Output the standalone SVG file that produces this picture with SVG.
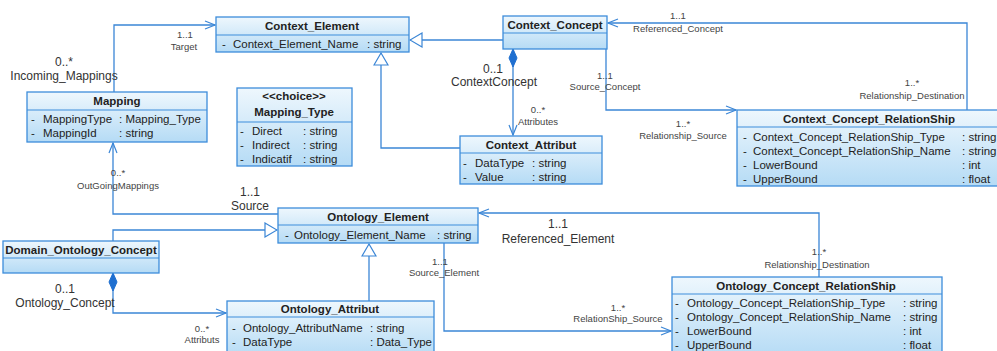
<svg xmlns="http://www.w3.org/2000/svg" width="997" height="351" viewBox="0 0 997 351">
  <defs>
    <linearGradient id="boxFill" x1="0" y1="0" x2="0" y2="1">
      <stop offset="0" stop-color="#eef7fd"/>
      <stop offset="1" stop-color="#b5dbf5"/>
    </linearGradient>
    <marker id="open" viewBox="0 0 12 12" refX="11" refY="6" markerWidth="12" markerHeight="12" markerUnits="userSpaceOnUse" orient="auto">
      <path d="M1,2 L11,6 L1,10" fill="none" stroke="#3b86d6" stroke-width="1.2"/>
    </marker>
    <marker id="gen" viewBox="0 0 14 16" refX="13" refY="8" markerWidth="14" markerHeight="16" markerUnits="userSpaceOnUse" orient="auto">
      <path d="M1,1 L13,8 L1,15 Z" fill="#ffffff" stroke="#3b86d6" stroke-width="1.2"/>
    </marker>
    <marker id="comp" viewBox="0 0 20 10" refX="1" refY="5" markerWidth="20" markerHeight="10" markerUnits="userSpaceOnUse" orient="auto">
      <path d="M1,5 L10,1 L19,5 L10,9 Z" fill="#1f6fd0" stroke="#1f6fd0" stroke-width="1"/>
    </marker>
  </defs>
  <style>
    .box { fill: url(#boxFill); stroke: #3d8ddb; stroke-width: 1.3; }
    .sep { stroke: #3d8ddb; stroke-width: 1.2; }
    .hd { font-family: "Liberation Sans", Arial, sans-serif; font-size: 11.5px; font-weight: bold; fill: #222; text-anchor: middle; }
    .at { font-family: "Liberation Sans", Arial, sans-serif; font-size: 11.5px; fill: #222; }
    .conn { fill: none; stroke: #3b86d6; stroke-width: 1.3; }
    .lb { font-family: "Liberation Sans", Arial, sans-serif; font-size: 12px; fill: #333; text-anchor: middle; }
    .sm { font-family: "Liberation Sans", Arial, sans-serif; font-size: 9.5px; fill: #444; text-anchor: middle; }
  </style>
  <rect width="997" height="351" fill="#ffffff"/>

  <g id="connectors">
    <!-- Mapping -> Context_Element (Target) -->
    <path class="conn" d="M114,92 L114,25 L215,25" marker-end="url(#open)"/>
    <!-- Ontology_Element -> Mapping (OutGoingMappings) -->
    <path class="conn" d="M278,214 L113,214 L113,143" marker-end="url(#open)"/>
    <!-- Context_Concept generalizes to Context_Element -->
    <path class="conn" d="M503,40 L410,40" marker-end="url(#gen)"/>
    <!-- Context_Attribut generalizes to Context_Element -->
    <path class="conn" d="M460,148 L381,148 L381,53" marker-end="url(#gen)"/>
    <!-- Context_Concept composes Context_Attribut -->
    <path class="conn" d="M513,49 L513,135" marker-start="url(#comp)" marker-end="url(#open)"/>
    <!-- Source_Concept -->
    <path class="conn" d="M606,49 L606,110 L736,110" marker-end="url(#open)"/>
    <!-- Referenced_Concept -->
    <path class="conn" d="M967,110 L967,23 L608,23" marker-end="url(#open)"/>
    <!-- Domain_Ontology_Concept generalizes to Ontology_Element -->
    <path class="conn" d="M113,241 L113,230 L277,230" marker-end="url(#gen)"/>
    <!-- Domain_Ontology_Concept composes Ontology_Attribut -->
    <path class="conn" d="M113,273 L113,313 L226,313" marker-start="url(#comp)" marker-end="url(#open)"/>
    <!-- Ontology_Attribut generalizes to Ontology_Element -->
    <path class="conn" d="M369,301 L369,244" marker-end="url(#gen)"/>
    <!-- Source_Element -->
    <path class="conn" d="M444,243 L444,331 L671,331" marker-end="url(#open)"/>
    <!-- Referenced_Element -->
    <path class="conn" d="M819,277 L819,213 L479,213" marker-end="url(#open)"/>

    <!-- role labels -->
    <text class="sm" x="185" y="38">1..1</text>
    <text class="sm" x="184" y="50">Target</text>
    <text class="lb" x="64" y="66">0..*</text>
    <text class="lb" x="64" y="80">Incoming_Mappings</text>
    <text class="lb" x="493" y="73">0..1</text>
    <text class="lb" x="494" y="86">ContextConcept</text>
    <text class="sm" x="538" y="113">0..*</text>
    <text class="sm" x="538" y="125">Attributes</text>
    <text class="sm" x="605" y="79">1..1</text>
    <text class="sm" x="605" y="90">Source_Concept</text>
    <text class="sm" x="678" y="19">1..1</text>
    <text class="sm" x="678" y="32">Referenced_Concept</text>
    <text class="sm" x="912" y="86">1..*</text>
    <text class="sm" x="912" y="99">Relationship_Destination</text>
    <text class="sm" x="683" y="127">1..*</text>
    <text class="sm" x="683" y="139">Relationship_Source</text>
    <text class="sm" x="118" y="176">0..*</text>
    <text class="sm" x="118" y="189">OutGoingMappings</text>
    <text class="lb" x="250" y="196">1..1</text>
    <text class="lb" x="250" y="210">Source</text>
    <text class="lb" x="558" y="228">1..1</text>
    <text class="lb" x="558" y="243">Referenced_Element</text>
    <text class="sm" x="440" y="265">1..1</text>
    <text class="sm" x="444" y="276">Source_Element</text>
    <text class="sm" x="618" y="311">1..*</text>
    <text class="sm" x="618" y="322">RelationShip_Source</text>
    <text class="sm" x="819" y="255">1..*</text>
    <text class="sm" x="817" y="268">Relationship_Destination</text>
    <text class="lb" x="65" y="293">0..1</text>
    <text class="lb" x="65" y="307">Ontology_Concept</text>
    <text class="sm" x="202" y="332">0..*</text>
    <text class="sm" x="202" y="343">Attributs</text>
  </g>

  <g id="Context_Element">
    <rect class="box" x="216" y="17" width="193" height="35"/>
    <line class="sep" x1="216" y1="35" x2="409" y2="35"/>
    <text class="hd" x="312" y="30">Context_Element</text>
    <text class="at" x="222" y="48">-</text>
    <text class="at" x="233" y="48">Context_Element_Name</text>
    <text class="at" x="367" y="48">: string</text>
  </g>

  <g id="Context_Concept">
    <rect class="box" x="503" y="16" width="104" height="33"/>
    <line class="sep" x1="503" y1="33" x2="607" y2="33"/>
    <text class="hd" x="555" y="29">Context_Concept</text>
  </g>

  <g id="Mapping">
    <rect class="box" x="27" y="92" width="180" height="50"/>
    <line class="sep" x1="27" y1="110" x2="207" y2="110"/>
    <text class="hd" x="117" y="105">Mapping</text>
    <text class="at" x="31" y="123">-</text>
    <text class="at" x="43" y="123">MappingType</text>
    <text class="at" x="119" y="123">: Mapping_Type</text>
    <text class="at" x="31" y="137">-</text>
    <text class="at" x="43" y="137">MappingId</text>
    <text class="at" x="119" y="137">: string</text>
  </g>

  <g id="Mapping_Type">
    <rect class="box" x="237" y="88" width="115" height="78"/>
    <line class="sep" x1="237" y1="122" x2="352" y2="122"/>
    <text class="hd" x="294" y="100">&lt;&lt;choice&gt;&gt;</text>
    <text class="hd" x="294" y="116">Mapping_Type</text>
    <text class="at" x="240" y="135">-</text>
    <text class="at" x="252" y="135">Direct</text>
    <text class="at" x="303" y="135">: string</text>
    <text class="at" x="240" y="149">-</text>
    <text class="at" x="252" y="149">Indirect</text>
    <text class="at" x="303" y="149">: string</text>
    <text class="at" x="240" y="163">-</text>
    <text class="at" x="252" y="163">Indicatif</text>
    <text class="at" x="303" y="163">: string</text>
  </g>

  <g id="Context_Attribut">
    <rect class="box" x="460" y="136" width="142" height="48"/>
    <line class="sep" x1="460" y1="153" x2="602" y2="153"/>
    <text class="hd" x="531" y="149">Context_Attribut</text>
    <text class="at" x="463" y="167">-</text>
    <text class="at" x="475" y="167">DataType</text>
    <text class="at" x="532" y="167">: string</text>
    <text class="at" x="463" y="181">-</text>
    <text class="at" x="475" y="181">Value</text>
    <text class="at" x="532" y="181">: string</text>
  </g>

  <g id="Context_Concept_RelationShip">
    <rect class="box" x="737" y="110" width="264" height="76"/>
    <line class="sep" x1="737" y1="127" x2="1001" y2="127"/>
    <text class="hd" x="869" y="123">Context_Concept_RelationShip</text>
    <text class="at" x="743" y="141">-</text>
    <text class="at" x="753" y="141">Context_Concept_RelationShip_Type</text>
    <text class="at" x="962" y="141">: string</text>
    <text class="at" x="743" y="155">-</text>
    <text class="at" x="753" y="155">Context_Concept_RelationShip_Name</text>
    <text class="at" x="962" y="155">: string</text>
    <text class="at" x="743" y="169">-</text>
    <text class="at" x="753" y="169">LowerBound</text>
    <text class="at" x="962" y="169">: int</text>
    <text class="at" x="743" y="183">-</text>
    <text class="at" x="753" y="183">UpperBound</text>
    <text class="at" x="962" y="183">: float</text>
  </g>

  <g id="Ontology_Element">
    <rect class="box" x="278" y="208" width="200" height="35"/>
    <line class="sep" x1="278" y1="225" x2="478" y2="225"/>
    <text class="hd" x="378" y="221">Ontology_Element</text>
    <text class="at" x="285" y="239">-</text>
    <text class="at" x="294" y="239">Ontology_Element_Name</text>
    <text class="at" x="437" y="239">: string</text>
  </g>

  <g id="Domain_Ontology_Concept">
    <rect class="box" x="3" y="241" width="156" height="32"/>
    <line class="sep" x1="3" y1="258" x2="159" y2="258"/>
    <text class="hd" x="81" y="254">Domain_Ontology_Concept</text>
  </g>

  <g id="Ontology_Attribut">
    <rect class="box" x="227" y="301" width="207" height="56"/>
    <line class="sep" x1="227" y1="317" x2="434" y2="317"/>
    <text class="hd" x="330" y="313">Ontology_Attribut</text>
    <text class="at" x="232" y="332">-</text>
    <text class="at" x="243" y="332">Ontology_AttributName</text>
    <text class="at" x="370" y="332">: string</text>
    <text class="at" x="232" y="346">-</text>
    <text class="at" x="243" y="346">DataType</text>
    <text class="at" x="370" y="346">: Data_Type</text>
  </g>

  <g id="Ontology_Concept_RelationShip">
    <rect class="box" x="672" y="277" width="270" height="80"/>
    <line class="sep" x1="672" y1="294" x2="942" y2="294"/>
    <text class="hd" x="806" y="290">Ontology_Concept_RelationShip</text>
    <text class="at" x="675" y="307">-</text>
    <text class="at" x="687" y="307">Ontology_Concept_RelationShip_Type</text>
    <text class="at" x="903" y="307">: string</text>
    <text class="at" x="675" y="321">-</text>
    <text class="at" x="687" y="321">Ontology_Concept_RelationShip_Name</text>
    <text class="at" x="903" y="321">: string</text>
    <text class="at" x="675" y="335">-</text>
    <text class="at" x="687" y="335">LowerBound</text>
    <text class="at" x="903" y="335">: int</text>
    <text class="at" x="675" y="349">-</text>
    <text class="at" x="687" y="349">UpperBound</text>
    <text class="at" x="903" y="349">: float</text>
  </g>
</svg>
